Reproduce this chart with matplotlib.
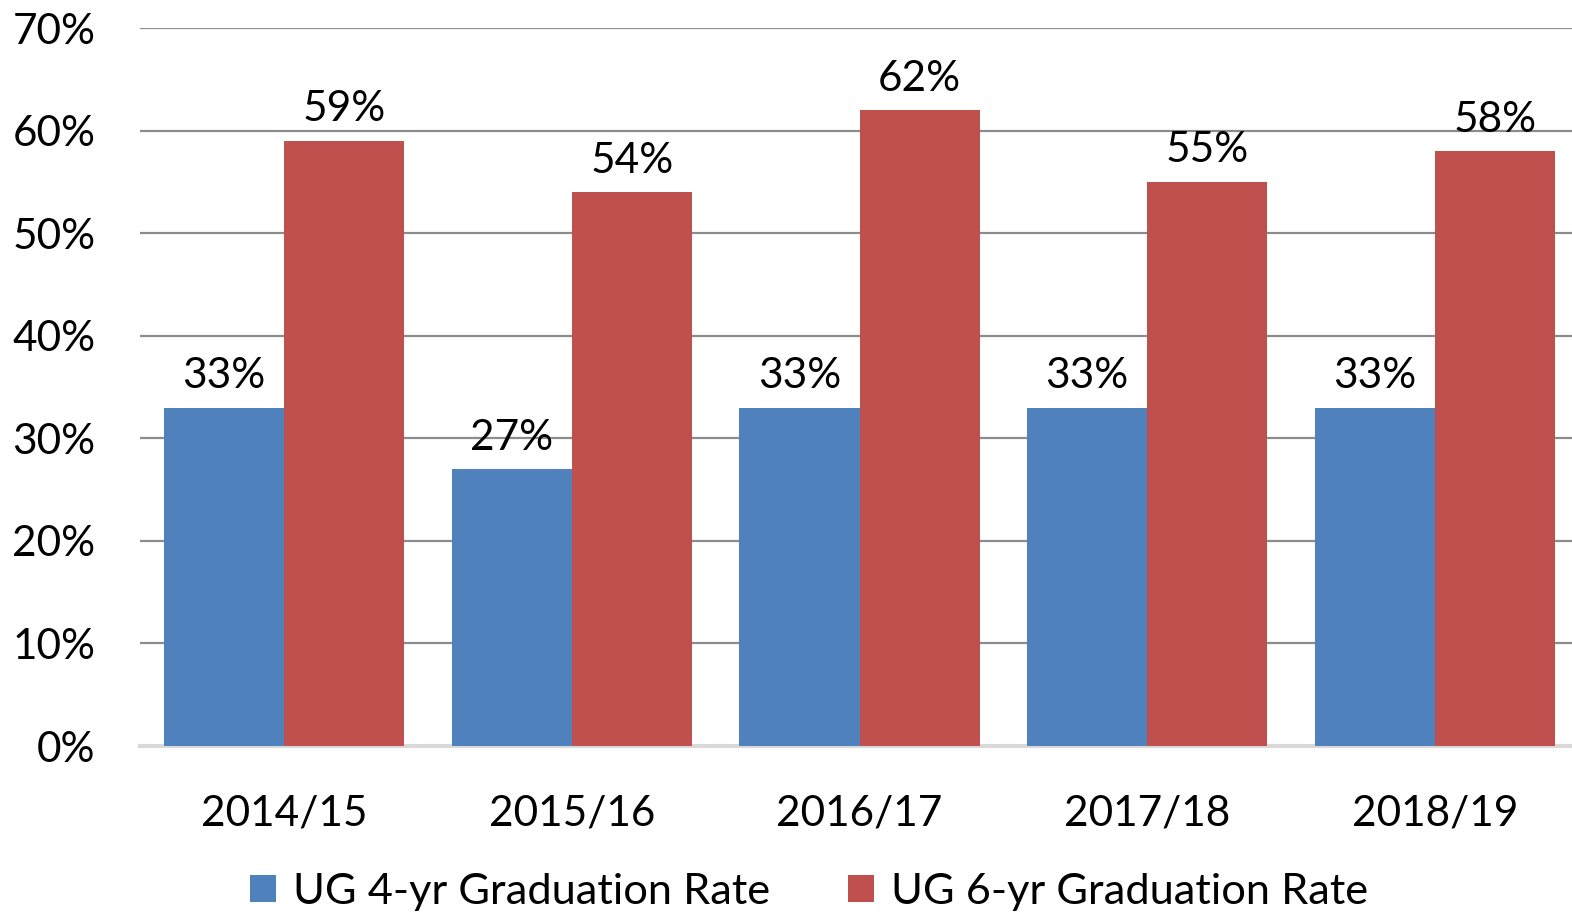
import numpy as np
import matplotlib.pyplot as plt
from matplotlib.ticker import FuncFormatter

years = ["2014/15", "2015/16", "2016/17", "2017/18", "2018/19"]
rate_4yr = [33, 27, 33, 33, 33]
rate_6yr = [59, 54, 62, 55, 58]

plt.rcParams['font.family'] = ['Lato', 'DejaVu Sans']

W, H = 1572, 916
fig = plt.figure(figsize=(W / 100, H / 100), dpi=100)
ax = fig.add_axes([140 / W, (H - 746) / H, 1439 / W, (746 - 28) / H])

x = np.arange(len(years))
bw = 0.4175
b1 = ax.bar(x - bw / 2, rate_4yr, bw, color='#4F81BD', label='UG 4-yr Graduation Rate', zorder=3)
b2 = ax.bar(x + bw / 2, rate_6yr, bw, color='#C0504D', label='UG 6-yr Graduation Rate', zorder=3)

for bars in (b1, b2):
    for r in bars:
        ax.annotate(f"{r.get_height():.0f}%", (r.get_x() + r.get_width() / 2, r.get_height()),
                    xytext=(0, 9), textcoords='offset points', ha='center', va='bottom',
                    fontsize=30.5, zorder=4)

ax.set_xlim(-0.5, len(years) - 0.5)
ax.set_ylim(0, 70)
ax.set_yticks(range(0, 71, 10))
ax.yaxis.set_major_formatter(FuncFormatter(lambda v, p: f"{v:.0f}%"))
ax.set_xticks(x)
ax.set_xticklabels(years)
ax.grid(axis='y', color='#8c8c8c', linewidth=1.6, zorder=0)
for s in ('top', 'right', 'left'):
    ax.spines[s].set_visible(False)
ax.spines['bottom'].set_color('#d9d9d9')
ax.spines['bottom'].set_linewidth(3)
ax.spines['bottom'].set_zorder(2)
ax.tick_params(axis='both', length=0, labelsize=30.5)
ax.tick_params(axis='y', pad=32)
ax.tick_params(axis='x', pad=35)

fig.legend(loc='center', bbox_to_anchor=(809 / W, 1 - 892 / H), ncol=2, frameon=False,
           fontsize=31.2, handlelength=0.6, handleheight=0.6, handletextpad=0.4, columnspacing=1.8)

fig.savefig("out.png", dpi=100)
